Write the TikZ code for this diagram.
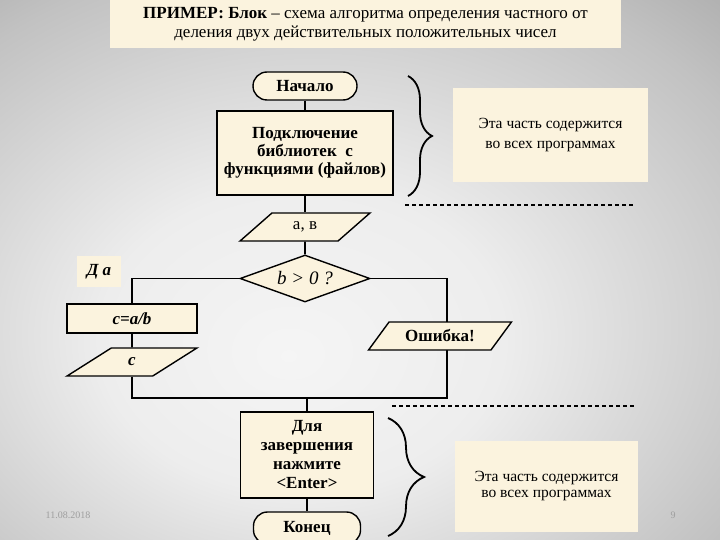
\documentclass[tikz,border=0pt]{standalone}
\usepackage{fontspec}
\setmainfont{Liberation Serif}
\usepackage{tikz}
\usetikzlibrary{arrows.meta,positioning,shapes.geometric,decorations.pathreplacing}

\definecolor{cream}{RGB}{251,243,222}
\pgfdeclareradialshading{slidebg}{\pgfpoint{-5bp}{-8bp}}{color(0bp)=(black!4); color(14bp)=(black!7); color(34bp)=(black!24); color(50bp)=(black!42); color(75bp)=(black!40)}

\begin{document}
\begin{tikzpicture}[
    x=1pt, y=-1pt,
    block/.style={draw, fill=cream, line width=1.4pt, align=center, inner sep=2pt, font=\bfseries\fontsize{17}{18}\selectfont},
    term/.style={block, rounded corners=14pt, minimum width=104pt, minimum height=28pt},
    io/.style={draw, fill=cream, line width=1.4pt, trapezium, trapezium left angle=45, trapezium right angle=135, trapezium stretches=true, minimum height=28pt, inner sep=1pt, font=\fontsize{17}{18}\selectfont},
    decision/.style={draw, fill=cream, line width=1.4pt, diamond, aspect=2.77, minimum width=130pt, minimum height=47pt, inner sep=0pt, font=\fontsize{19}{20}\selectfont},
    note/.style={fill=cream, align=center, font=\fontsize{15.5}{20}\selectfont},
    line/.style={line width=1.8pt},
    bracket/.style={line width=1.8pt, decorate, decoration={brace, amplitude=#1}},
    sep/.style={line width=1.5pt, dash pattern=on 4pt off 3pt}
]
% slide background
\shade[shading=slidebg] (0,0) rectangle (720,540);
\useasboundingbox (0,0) rectangle (720,540);
\clip (0,0) rectangle (720,540);

% heading
\node[fill=cream, minimum width=511pt, minimum height=48pt, align=center, font=\fontsize{17}{19}\selectfont] (title) at (365.5,24) {\textbf{ПРИМЕР: Блок} – схема алгоритма определения частного от\\деления двух действительных положительных чисел};

% main column
\node[term] (start) at (305,86) {Начало};
\node[block, minimum width=176pt, minimum height=84pt] (libs) at (305,153) {Подключение\\библиотек\ \ с\\функциями (файлов)};
\node[io, minimum width=130pt] (input) at (305,227) {а, в};
\node[decision] (check) at (305,278.5) {\textit{b > 0 ?}};
\node[fill=cream, minimum width=44pt, minimum height=31pt, font=\bfseries\itshape\fontsize{17}{18}\selectfont] (yes) at (99,271.5) {Д а};
\node[block, minimum width=130pt, minimum height=29pt, font=\bfseries\itshape\fontsize{17}{18}\selectfont] (calc) at (132,318.5) {c=a/b};
\node[io, minimum width=130pt, font=\bfseries\itshape\fontsize{17}{18}\selectfont] (result) at (132,362) {c};
\node[block, minimum width=133pt, minimum height=86pt, font=\bfseries\fontsize{17}{19}\selectfont] (finish) at (307,455) {Для\\завершения\\нажмите\\<Enter>};
\node[term, minimum width=107pt, minimum height=32pt] (stop) at (307,528) {Конец};

% connectors
\coordinate (turn) at (447,278.5);
\coordinate (merge) at (307,398);
\draw[line] (start) -- (libs);
\draw[line] (libs) -- (input);
\draw[line] (input) -- (check);
\draw[line] (check.west) -| (calc.north);
\draw[line] (calc) -- (result);
\draw[line] (result.south) |- (merge);
\draw[line] (check.east) -- (turn) |- (merge);
\draw[line] (merge) -- (finish);
\draw[line] (finish) -- (stop);

% error output sits on the right branch
\node[io, minimum width=144pt, font=\bfseries\fontsize{17}{18}\selectfont] (error) at (440,336) {Ошибка!};

% braces, separators and side notes
\coordinate (b1top) at (408,76);
\coordinate (b1bot) at (408,196);
\coordinate (b2top) at (388,418);
\coordinate (b2bot) at (388,536);
\draw[bracket=24pt] (b1top) -- (b1bot);
\draw[bracket=36pt] (b2top) -- (b2bot);

\coordinate (d1a) at (405,205);
\coordinate (d1b) at (635,205);
\coordinate (d2a) at (392,406);
\coordinate (d2b) at (635,406);
\draw[sep] (d1a) -- (d1b);
\draw[sep] (d2a) -- (d2b);

\node[note, minimum width=195pt, minimum height=94pt] (note1) at (550.5,135) {Эта часть содержится\\во всех программах};
\node[note, minimum width=183pt, minimum height=91pt, font=\fontsize{15.5}{16}\selectfont] (note2) at (546.5,486.5) {Эта часть содержится\\во всех программах};

% footer
\node[text=black!38, font=\fontsize{10}{12}\selectfont] (date) at (68,515) {11.08.2018};
\node[text=black!38, font=\fontsize{10}{12}\selectfont] (page) at (673,515) {9};
\end{tikzpicture}
\end{document}
